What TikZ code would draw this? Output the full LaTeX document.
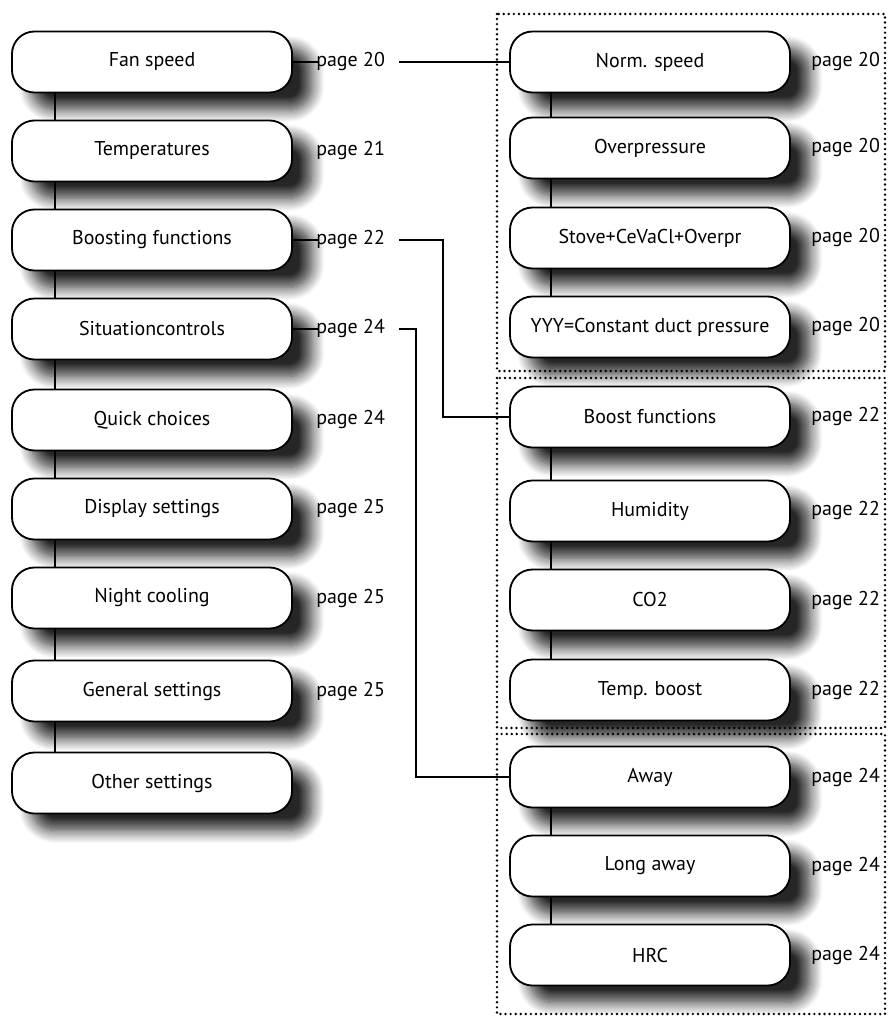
\documentclass[tikz,border=0pt]{standalone}
\usepackage{fontspec}
\setmainfont{PT Sans}
\usepackage{tikz}
\usetikzlibrary{positioning, shadows.blur}

\begin{document}
\begin{tikzpicture}[x=0.025cm, y=-0.025cm,
    menu/.style={draw, line width=1.3pt, fill=white, rounded corners=16pt,
        minimum width=7cm, minimum height=1.525cm, inner sep=0pt,
        font=\fontsize{14.2}{17}\selectfont,
        blur shadow={shadow xshift=14pt, shadow yshift=-12pt,
            shadow blur radius=9pt, shadow blur steps=12, shadow opacity=85}},
    pg/.style={anchor=west, inner sep=0pt, font=\fontsize{14.2}{17}\selectfont},
    link/.style={line width=1.3pt},
    grp/.style={line width=1.9pt, dash pattern=on 0pt off 3.6pt, line cap=round}]
    \useasboundingbox (0,0) rectangle (890,1019);

    % 1. Menu chinh (cot trai)
    \foreach \nm/\y/\txt in {fan/62/Fan speed, temp/151/Temperatures,
        boost/240/Boosting functions, situ/329/Situationcontrols,
        quick/420/Quick choices, disp/509/Display settings,
        night/598/Night cooling, gen/691/General settings, other/783/Other settings} {
        \node[menu] (\nm) at (152,\y) {\txt};
    }
    \foreach \nm/\n in {fan/20, temp/21, boost/22, situ/24, quick/24, disp/25, night/25, gen/25} {
        \node[pg] (p\nm) at (316,0 |- \nm) {page \n};
    }

    % 2. Menu con (cot phai)
    \foreach \nm/\y/\txt in {norm/62/Norm. speed, overp/148/Overpressure,
        stove/238/Stove+CeVaCl+Overpr, yyy/327/YYY=Constant duct pressure,
        boostf/417/Boost functions, humid/511/Humidity, cotwo/600/CO2,
        tempb/690/Temp. boost, away/777/Away, laway/866/Long away, hrc/955/HRC} {
        \node[menu] (\nm) at (650,\y) {\txt};
    }
    \foreach \nm in {norm, overp, stove, yyy} {
        \node[pg] (p\nm) at (811,0 |- \nm) {page 20};
    }
    \foreach \nm in {boostf, humid, cotwo, tempb} {
        \node[pg] (p\nm) at (811,0 |- \nm) {page 22};
    }
    \foreach \nm in {away, laway, hrc} {
        \node[pg] (p\nm) at (811,0 |- \nm) {page 24};
    }

    % 3. Duong noi doc
    \foreach \a/\b in {fan/temp, temp/boost, boost/situ, situ/quick, quick/disp,
        disp/night, night/gen, gen/other} {
        \draw[link] (\a.south -| 55,0) -- (\b.north -| 55,0);
    }
    \foreach \a/\b in {norm/overp, overp/stove, stove/yyy, boostf/humid,
        humid/cotwo, cotwo/tempb, away/laway, laway/hrc} {
        \draw[link] (\a.south -| 551,0) -- (\b.north -| 551,0);
    }

    % 4. Duong noi sang cot phai
    \foreach \nm in {fan, boost, situ} {
        \draw[link] (\nm.east) -- ([xshift=0.08cm]p\nm.west);
    }
    \draw[link] ([xshift=0.35cm]pfan.east) -- (pfan.east -| norm.west);
    \coordinate (bturn) at (443,0);
    \coordinate (sturn) at (416,0);
    \draw[link] ([xshift=0.35cm]pboost.east) -| (bturn |- boostf) -- (boostf.west);
    \draw[link] ([xshift=0.35cm]psitu.east) -| (sturn |- away) -- (away.west);

    % 5. Khung cham
    \draw[grp] (497,14) rectangle (885,371);
    \draw[grp] (497,378) rectangle (885,728);
    \draw[grp] (497,734) rectangle (885,1014);

\end{tikzpicture}
\end{document}
